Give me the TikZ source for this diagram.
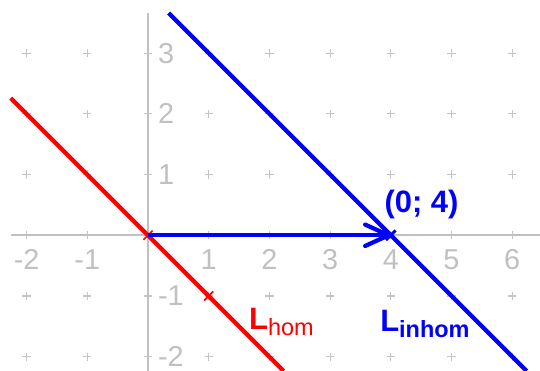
\documentclass[tikz,border=0pt]{standalone}
\usepackage{fontspec}
\setmainfont{Liberation Sans}
\usetikzlibrary{arrows.meta}
\definecolor{axisgray}{HTML}{C0C0C0}
\definecolor{gridgray}{HTML}{C4C4C4}
\begin{document}
\begin{tikzpicture}[x=1cm,y=1cm,
  axis/.style={draw=axisgray, line width=0.8pt},
  gridplus/.style={draw=gridgray, line width=0.55pt},
  ticklabel/.style={text=axisgray, font=\fontsize{13.5}{14}\selectfont, inner sep=0pt},
  redline/.style={draw=red, line width=2pt},
  blueline/.style={draw=blue, line width=2pt},
  markseg/.style={line width=0.8pt},
  biglabel/.style={inner sep=0pt, anchor=base west},
]
\useasboundingbox (-2.438,-2.236) rectangle (6.458,3.876);
% grid pluses
\foreach \x in {-2,...,6} \foreach \y in {-2,...,3} {
  \path[gridplus] (\x,\y) +(-0.068,0) edge +(0.068,0) +(0,-0.068) edge +(0,0.068);
}
% axes
\coordinate (xl) at (-2.26,0);
\coordinate (xr) at (6.46,0);
\coordinate (yt) at (0,3.66);
\coordinate (yb) at (0,-2.236);
\draw[axis] (xl) -- (xr);
\draw[axis] (yb) -- (yt);
% tick labels
\foreach \x [count=\i] in {-2,-1,1,2,3,4,5,6}
  \node[ticklabel, anchor=base] (tx\i) at (\x,-0.56) {\x};
\foreach \y [count=\i] in {-2,-1,1,2,3}
  \node[ticklabel, anchor=base west] (ty\i) at (0.16,\y-0.165) {\y};
% lines
\coordinate (rA) at (-2.26,2.26);
\coordinate (rB) at (2.236,-2.236);
\draw[redline] (rA) -- (rB);
\coordinate (O) at (0,0);
\coordinate (Q) at (1,-1);
\coordinate (P) at (4,0);
\draw[red, markseg] (O) +(-0.075,-0.075) -- +(0.075,0.075);
\draw[red, markseg] (Q) +(-0.075,-0.075) -- +(0.075,0.075);
\draw[blueline, -{Straight Barb[length=11pt,width=10pt,round]}] (O) -- (P);
\coordinate (bA) at (0.34,3.66);
\coordinate (bB) at (6.236,-2.236);
\draw[blueline] (bA) -- (bB);
\draw[blue, line width=1.4pt] (P) +(-0.08,-0.08) -- +(0.08,0.08);
% labels
\node[inner sep=0pt, anchor=base, text=blue, font=\bfseries\fontsize{14.5}{15}\selectfont] (pt) at (4.506,0.367) {(0; 4)};
\node[biglabel, text=red] (lh) at (1.66,-1.56) {{\bfseries\fontsize{14.5}{15}\selectfont L}\raisebox{-2.8pt}{\fontsize{11}{12}\selectfont hom}};
\node[biglabel, text=blue] (li) at (3.82,-1.59) {{\bfseries\fontsize{14.5}{15}\selectfont L}\raisebox{-2.8pt}{\bfseries\fontsize{11}{12}\selectfont inhom}};
\end{tikzpicture}
\end{document}
